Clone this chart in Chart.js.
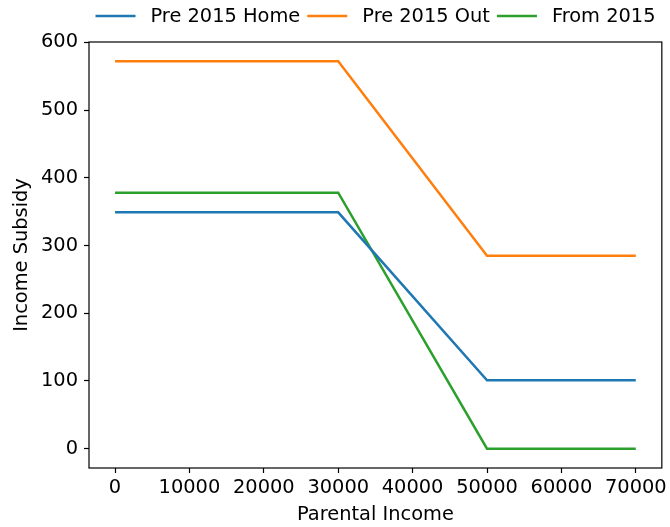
<!DOCTYPE html>
<html><head><meta charset="utf-8">
<script src="https://cdn.jsdelivr.net/npm/chart.js@4/dist/chart.umd.min.js"></script>
<style>html,body{margin:0;padding:0;background:#fff}#wrap{width:670px;height:527px}</style>
</head><body><div id="wrap"><canvas id="c" width="670" height="527"></canvas></div>
<script>
const incomes = [0, 30000, 50000, 70000];
const seriesNames = ['Pre 2015 Home', 'Pre 2015 Out', 'From 2015'];
const preHome = [349, 349, 101, 101];
const preOut = [572, 572, 285, 285];
const from2015 = [378, 378, 0, 0];
const xTicks = [0, 10000, 20000, 30000, 40000, 50000, 60000, 70000];
const yTicks = [0, 100, 200, 300, 400, 500, 600];
const colors = ['#1f77b4', '#ff7f0e', '#2ca02c'];

const FONT = '"DejaVu Sans", sans-serif';
const FS = 19.4;

const mk = (vals) => incomes.map((x, i) => ({x: x, y: vals[i]}));
const datasets = [preHome, preOut, from2015].map((v, i) => ({
  label: seriesNames[i], data: mk(v), borderColor: colors[i], backgroundColor: colors[i],
  borderWidth: 2.5, pointRadius: 0, fill: false, tension: 0
}));

const framePlugin = {
  id: 'frame',
  afterDatasetsDraw(chart) {
    const a = chart.chartArea, ctx = chart.ctx;
    ctx.save();
    ctx.strokeStyle = '#000'; ctx.lineWidth = 1.2;
    ctx.strokeRect(a.left, a.top, a.right - a.left, a.bottom - a.top);
    ctx.restore();
  },
  afterDraw(chart) {
    const ctx = chart.ctx;
    ctx.save();
    ctx.font = FS + 'px ' + FONT;
    ctx.textBaseline = 'middle';
    const lineLen = 40, gapText = 15, gapItem = 7;
    const widths = seriesNames.map(n => ctx.measureText(n).width);
    let total = widths.reduce((s, w) => s + lineLen + gapText + w, 0) + gapItem * (seriesNames.length - 1);
    const cx = 375.5, y = 16;
    let x = cx - total / 2;
    seriesNames.forEach((n, i) => {
      ctx.strokeStyle = colors[i]; ctx.lineWidth = 2.5;
      ctx.beginPath(); ctx.moveTo(x, y); ctx.lineTo(x + lineLen, y); ctx.stroke();
      x += lineLen + gapText;
      ctx.fillStyle = '#000'; ctx.textAlign = 'left';
      ctx.fillText(n, x, y + 1);
      x += widths[i] + gapItem;
    });
    ctx.restore();
  }
};

new Chart(document.getElementById('c'), {
  type: 'line',
  data: { datasets },
  options: {
    responsive: false, animation: false,
    layout: { padding: { top: 42, right: 8, left: 0, bottom: 0 } },
    plugins: { legend: { display: false }, tooltip: { enabled: false } },
    scales: {
      x: {
        type: 'linear', min: -3500, max: 73500,
        afterBuildTicks: (s) => { s.ticks = xTicks.map(v => ({value: v})); },
        afterFit: (s) => { s.height = 59; },
        grid: { drawOnChartArea: false, drawTicks: true, tickLength: 5, tickColor: '#000', tickWidth: 1.2 },
        border: { display: false },
        ticks: { color: '#000', font: { family: FONT, size: FS }, padding: 3, maxRotation: 0, autoSkip: false,
                 callback: (v) => String(v) },
        title: { display: true, text: 'Parental Income', color: '#000', font: { family: FONT, size: FS }, padding: { top: 2, bottom: 0 } }
      },
      y: {
        type: 'linear', min: -28.6, max: 600.6,
        afterBuildTicks: (s) => { s.ticks = yTicks.map(v => ({value: v})); },
        afterFit: (s) => { s.width = 89; },
        grid: { drawOnChartArea: false, drawTicks: true, tickLength: 5, tickColor: '#000', tickWidth: 1.2 },
        border: { display: false },
        ticks: { color: '#000', font: { family: FONT, size: FS }, padding: 6, callback: (v) => String(v) },
        title: { display: true, text: 'Income Subsidy', color: '#000', font: { family: FONT, size: FS }, padding: { top: 10, bottom: 4 } }
      }
    }
  },
  plugins: [framePlugin]
});
</script></body></html>
